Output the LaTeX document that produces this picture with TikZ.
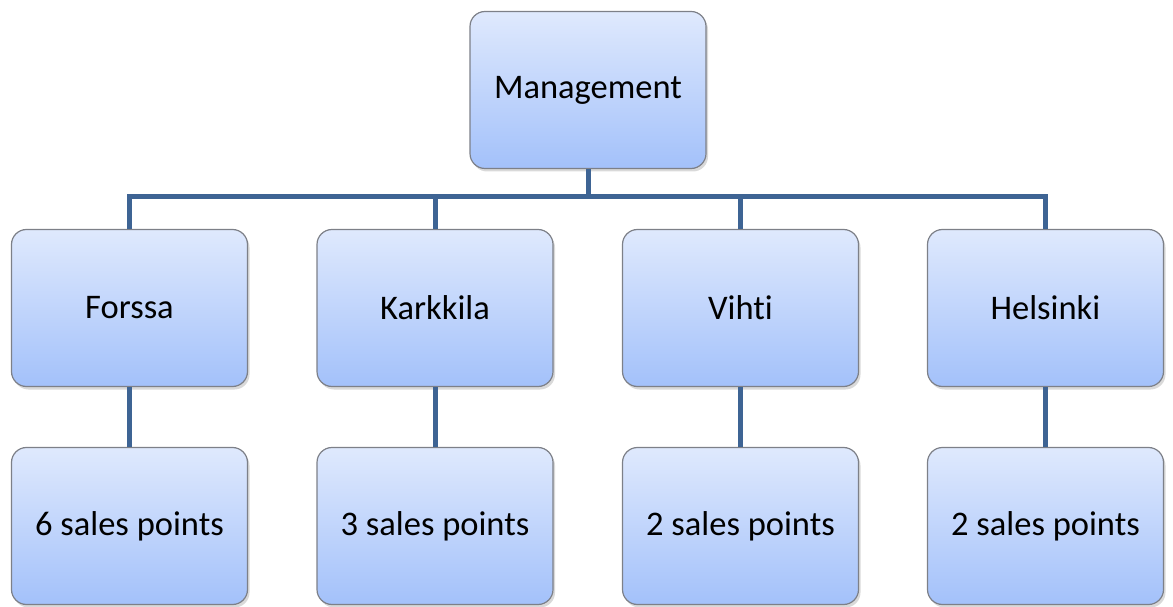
\documentclass[tikz,border=0pt]{standalone}
\usepackage{fontspec}
\setmainfont{Carlito}[Ligatures=NoCommon]
\usetikzlibrary{positioning,shadows}
\definecolor{boxtop}{RGB}{223,233,253}
\definecolor{boxbot}{RGB}{163,193,250}
\definecolor{boxline}{RGB}{125,128,136}
\definecolor{link}{RGB}{62,100,148}

\begin{document}
\begin{tikzpicture}[x=1pt,y=1pt,
    unit/.style={rectangle,rounded corners=15pt,draw=boxline,line width=1.2pt,
      top color=boxtop,bottom color=boxbot,minimum width=236pt,minimum height=157pt,
      font=\fontsize{34.5}{40}\selectfont,
      drop shadow={shadow xshift=2pt,shadow yshift=-3pt,opacity=0.3}},
    tie/.style={draw=link,line width=5pt}]
  \useasboundingbox (0,0) rectangle (1173,606);
  % top level
  \node[unit] (mgmt) at (588,516) {Management};
  \coordinate (bus) at (588,409);
  % offices
  \node[unit] (forssa) at (129.5,298) {Forssa};
  \node[unit] (karkkila) at (435,298) {Karkkila};
  \node[unit] (vihti) at (740.5,298) {Vihti};
  \node[unit] (helsinki) at (1045.5,298) {Helsinki};
  % sales points
  \node[unit] (forssa-sp) at (129.5,80) {6 sales points};
  \node[unit] (karkkila-sp) at (435,80) {3 sales points};
  \node[unit] (vihti-sp) at (740.5,80) {2 sales points};
  \node[unit] (helsinki-sp) at (1045.5,80) {2 sales points};
  \foreach \name in {forssa,karkkila,vihti,helsinki}{
    \draw[tie] (mgmt.south) -- (bus) -| (\name.north);
    \draw[tie] (\name.south) -- (\name-sp.north);
  }
\end{tikzpicture}
\end{document}
